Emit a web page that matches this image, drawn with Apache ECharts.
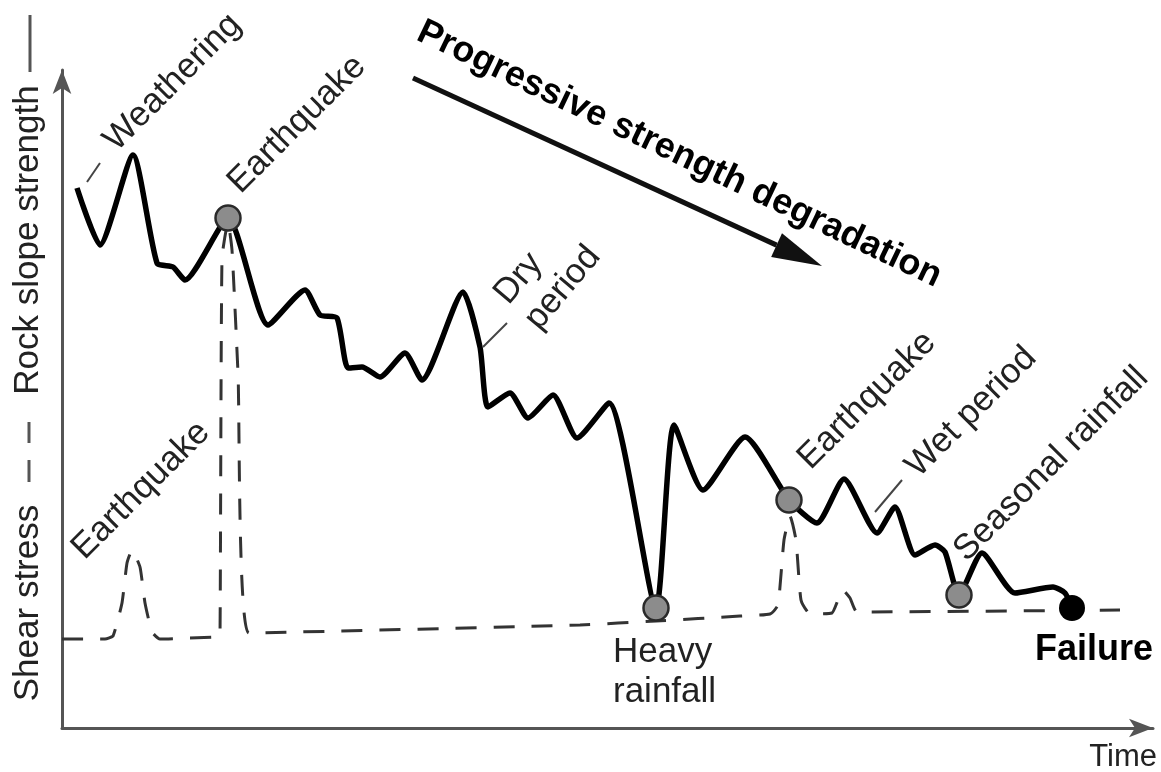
<!DOCTYPE html>
<html>
<head>
<meta charset="utf-8">
<script src="https://cdn.jsdelivr.net/npm/echarts@6/dist/echarts.min.js"></script>
<style>
  html, body { margin: 0; padding: 0; background: #fff; }
  #chart { width: 1161px; height: 772px; }
</style>
</head>
<body>
<div id="chart"></div>
<script>
// rock slope strength (solid line)
const strengthT = [15, 38, 71, 95, 111, 123, 166, 206, 243, 258, 275, 286, 300, 318, 343, 360, 401, 418, 426, 448, 466, 491, 515, 547, 594, 612, 641, 683, 727, 755, 782, 815, 833, 853, 873, 883, 897, 920, 953, 991, 1003, 1010]
const strengthV = [540, 483, 573, 465, 461, 448, 510, 403, 438, 413, 410, 360, 361, 351, 375, 348, 436, 381, 321, 335, 310, 333, 290, 325, 120, 303, 238, 291, 228, 205, 249, 195, 221, 173, 183, 176, 133, 175, 135, 141, 135, 120]

// shear stress (dashed line)
const stressT = [0, 43, 51, 60, 65, 70, 78, 83, 90, 98, 156, 158, 160, 166, 170, 176, 187, 518, 594, 678, 708, 716, 722, 728, 734, 739, 748, 770, 776, 781, 788, 795, 1058]
const stressV = [89, 89, 92, 125, 165, 178, 161, 125, 96, 89, 91, 92, 470, 506, 478, 355, 95, 103, 107, 112, 114, 123, 188, 212, 188, 128, 114, 115, 128, 138, 130, 116, 118]

// triggering events (grey dots) and failure
const eventT = [166, 594, 727, 897]
const eventV = [510, 120, 228, 133]
const failureT = [1010]
const failureV = [120]

const pairs = (t, v) => t.map((x, i) => [x, v[i]])

const FONT = '"Liberation Sans", Arial, sans-serif'
const INK = '#222'

function rotText(text, x, y, deg, opts = {}) {
  return {
    type: 'text',
    x: x,
    y: y,
    rotation: deg * Math.PI / 180,
    z: 10,
    style: Object.assign({
      text: text,
      fontSize: 35,
      fontFamily: FONT,
      fill: INK,
      align: 'left',
      verticalAlign: 'bottom',
      textAlign: 'left',
      textVerticalAlign: 'bottom'
    }, opts)
  }
}

function seg(x1, y1, x2, y2, w, color) {
  return {
    type: 'line',
    z: 10,
    shape: { x1, y1, x2, y2 },
    style: { stroke: color || '#444', lineWidth: w || 2 }
  }
}

// 粗箭头：Progressive strength degradation
function arrow(sx, sy, tx, ty) {
  const len = Math.hypot(tx - sx, ty - sy)
  const dx = (tx - sx) / len
  const dy = (ty - sy) / len
  const bx = tx - dx * 50
  const by = ty - dy * 50
  return [
    seg(sx, sy, bx, by, 5, '#111'),
    {
      type: 'polygon',
      z: 10,
      shape: { points: [[tx, ty], [bx - dy * 13, by + dx * 13], [bx + dy * 13, by - dx * 13]] },
      style: { fill: '#111' }
    }
  ]
}

const center = { align: 'center', verticalAlign: 'middle', textAlign: 'center', textVerticalAlign: 'middle' }

const chart = echarts.init(document.getElementById('chart'))

const option = {
  backgroundColor: '#fff',
  animation: false,
  grid: { left: 62, right: 8, top: 70, bottom: 44 },
  xAxis: {
    type: 'value',
    min: 0,
    max: 1091,
    axisLine: {
      show: true,
      symbol: ['none', 'arrow'],
      symbolSize: [14, 24],
      lineStyle: { color: '#555', width: 3 }
    },
    axisTick: { show: false },
    axisLabel: { show: false },
    splitLine: { show: false }
  },
  yAxis: {
    type: 'value',
    min: 0,
    max: 658,
    axisLine: {
      show: true,
      symbol: ['none', 'arrow'],
      symbolSize: [14, 24],
      lineStyle: { color: '#555', width: 3 }
    },
    axisTick: { show: false },
    axisLabel: { show: false },
    splitLine: { show: false }
  },
  series: [
    {
      name: 'Shear stress',
      type: 'line',
      data: pairs(stressT, stressV),
      showSymbol: false,
      smooth: 0.15,
      lineStyle: { color: '#333', width: 3, type: [21, 17] },
      z: 1
    },
    {
      name: 'Rock slope strength',
      type: 'line',
      data: pairs(strengthT, strengthV),
      showSymbol: false,
      smooth: 0.2,
      lineStyle: { color: '#000', width: 5.5 },
      z: 2
    },
    {
      name: 'Events',
      type: 'scatter',
      data: pairs(eventT, eventV),
      symbolSize: 25,
      itemStyle: { color: '#8c8c8c', borderColor: '#2a2a2a', borderWidth: 2.5, opacity: 1 },
      z: 3
    },
    {
      name: 'Failure',
      type: 'scatter',
      data: pairs(failureT, failureV),
      symbolSize: 26,
      itemStyle: { color: '#000', opacity: 1 },
      z: 3
    }
  ],
  graphic: [
    // y axis title
    rotText('Shear stress', 28, 603, 90, center),
    seg(29, 460, 29, 482, 3, '#555'),
    seg(29, 422, 29, 443, 3, '#555'),
    rotText('Rock slope strength', 28, 240, 90, center),
    seg(30, 15, 30, 72, 3, '#555'),
    // x axis title
    rotText('Time', 1157, 757, 0, { fontSize: 31, align: 'right', verticalAlign: 'middle', textAlign: 'right', textVerticalAlign: 'middle' }),

    // annotations
    seg(87, 182, 100, 163),
    rotText('Weathering', 122, 158, 45),
    rotText('Earthquake', 246, 200, 45),
    rotText('Earthquake', 90, 566, 45),
    seg(483, 347, 507, 323),
    rotText('Dry\nperiod', 547, 338, 50, { lineHeight: 40 }),
    rotText('Earthquake', 816, 476, 45),
    seg(875, 512, 902, 480),
    rotText('Wet period', 924, 484, 45),
    rotText('Seasonal rainfall', 972, 568, 45),
    rotText('Heavy\nrainfall', 613, 632, 0, { lineHeight: 40, verticalAlign: 'top', textVerticalAlign: 'top' }),
    rotText('Failure', 1035, 650, 0, { fontSize: 36, fontWeight: 'bold', fill: '#000', verticalAlign: 'middle', textVerticalAlign: 'middle' }),
    rotText('Progressive strength degradation', 427, 14, -25.5, { fontSize: 36, fontWeight: 'bold', fill: '#000', verticalAlign: 'top', textVerticalAlign: 'top' })
  ].concat(arrow(413, 78, 822, 266))
}

chart.setOption(option)
</script>
</body>
</html>
